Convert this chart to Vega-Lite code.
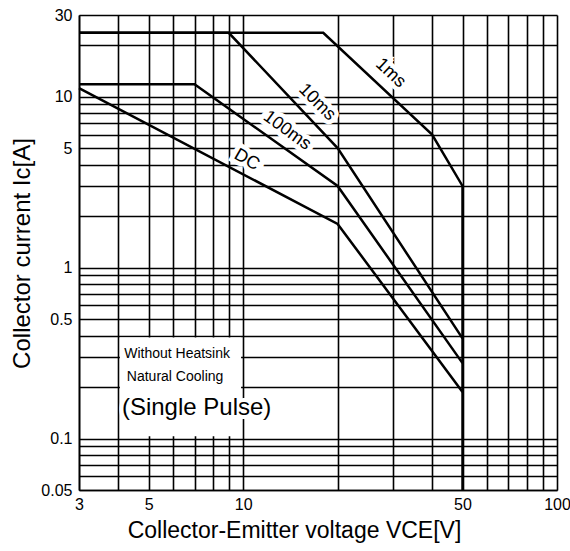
{
  "$schema": "https://vega.github.io/schema/vega-lite/v6.json",
  "width": 478,
  "height": 475,
  "autosize": {"type": "none"},
  "padding": {"left": 79, "top": 15, "right": 13, "bottom": 61},
  "background": "white",
  "config": {"view": {"stroke": null}, "font": "Liberation Sans"},
  "datasets": {
    "curves": [
      {"series": "1ms", "i": 0, "x": 3, "y": 23.6},
      {"series": "1ms", "i": 1, "x": 18, "y": 23.6},
      {"series": "1ms", "i": 2, "x": 40, "y": 6},
      {"series": "1ms", "i": 3, "x": 50, "y": 3},
      {"series": "1ms", "i": 4, "x": 50, "y": 0.05},
      {"series": "10ms", "i": 0, "x": 3, "y": 23.6},
      {"series": "10ms", "i": 1, "x": 9, "y": 23.6},
      {"series": "10ms", "i": 2, "x": 20, "y": 5},
      {"series": "10ms", "i": 3, "x": 50, "y": 0.385},
      {"series": "100ms", "i": 0, "x": 3, "y": 11.8},
      {"series": "100ms", "i": 1, "x": 7, "y": 11.8},
      {"series": "100ms", "i": 2, "x": 20, "y": 3},
      {"series": "100ms", "i": 3, "x": 50, "y": 0.276},
      {"series": "DC", "i": 0, "x": 3, "y": 11.2},
      {"series": "DC", "i": 1, "x": 20, "y": 1.8},
      {"series": "DC", "i": 2, "x": 50, "y": 0.187}
    ],
    "curveLabels": [
      {"label": "1ms", "x": 29.5, "y": 13.7, "angle": 43},
      {"label": "10ms", "x": 17.2, "y": 9.26, "angle": 45},
      {"label": "100ms", "x": 13.8, "y": 6.32, "angle": 36},
      {"label": "DC", "x": 10.27, "y": 4.26, "angle": 30}
    ],
    "box": [
      {"x": 4.05, "x2": 9.85, "y": 0.103, "y2": 0.39}
    ],
    "notes": [
      {"label": "Without Heatsink", "x": 6.16, "y": 0.313},
      {"label": "Natural Cooling", "x": 6.07, "y": 0.229}
    ],
    "pulse": [
      {"label": "(Single Pulse)", "x": 4.11, "y": 0.151}
    ],
    "heading": [
      {"label": "Safe Operating Area", "x": 16.9, "y": 39.8}
    ]
  },
  "encoding": {
    "x": {
      "field": "x",
      "type": "quantitative",
      "scale": {"type": "log", "domain": [3, 100], "nice": false},
      "axis": {
        "values": [3, 4, 5, 6, 7, 8, 9, 10, 20, 30, 40, 50, 60, 70, 80, 90, 100],
        "format": "~g",
        "labelExpr": "indexof([3,5,10,50,100], datum.value) >= 0 ? datum.label : ''",
        "labelOverlap": false,
        "labelFlush": false,
        "labelBound": false,
        "grid": true,
        "gridColor": "black",
        "gridOpacity": 1,
        "gridWidth": 1.6,
        "domain": true,
        "domainColor": "black",
        "domainWidth": 1.6,
        "ticks": false,
        "labelFontSize": 16,
        "labelColor": "black",
        "labelPadding": 6,
        "title": "Collector-Emitter voltage VCE[V]",
        "titleFontSize": 23,
        "titleFontWeight": "normal",
        "titleColor": "black",
        "titleX": 215,
        "titleY": 40,
        "titleAlign": "center",
        "titleBaseline": "middle"
      }
    },
    "y": {
      "field": "y",
      "type": "quantitative",
      "scale": {"type": "log", "domain": [0.05, 30], "nice": false},
      "axis": {
        "values": [0.05, 0.06, 0.07, 0.08, 0.09, 0.1, 0.2, 0.3, 0.4, 0.5, 0.6, 0.7, 0.8, 0.9, 1, 2, 3, 4, 5, 6, 7, 8, 9, 10, 20, 30],
        "format": "~g",
        "labelExpr": "indexof([0.05,0.1,0.5,1,5,10,30], datum.value) >= 0 ? datum.label : ''",
        "labelOverlap": false,
        "labelFlush": false,
        "labelBound": false,
        "grid": true,
        "gridColor": "black",
        "gridOpacity": 1,
        "gridWidth": 1.6,
        "domain": true,
        "domainColor": "black",
        "domainWidth": 1.6,
        "ticks": false,
        "labelFontSize": 16,
        "labelColor": "black",
        "labelPadding": 7,
        "title": "Collector current    Ic[A]",
        "titleFontSize": 24,
        "titleFontWeight": "normal",
        "titleColor": "black",
        "titleAngle": 270,
        "titleX": -57,
        "titleY": 238,
        "titleAlign": "center",
        "titleBaseline": "middle"
      }
    }
  },
  "layer": [
    {
      "data": {"name": "box"},
      "mark": {"type": "rect", "fill": "white", "stroke": null},
      "encoding": {"x2": {"field": "x2"}, "y2": {"field": "y2"}}
    },
    {
      "data": {"name": "curves"},
      "mark": {"type": "line", "color": "black", "strokeWidth": 2.5, "strokeJoin": "miter"},
      "encoding": {
        "detail": {"field": "series"},
        "order": {"field": "i", "type": "quantitative"}
      }
    },
    {
      "data": {"name": "curveLabels"},
      "mark": {"type": "text", "fontSize": 18, "color": "white", "stroke": "white", "strokeWidth": 9, "align": "center", "baseline": "middle"},
      "encoding": {"text": {"field": "label"}, "angle": {"field": "angle", "type": "quantitative", "scale": null}}
    },
    {
      "data": {"name": "curveLabels"},
      "mark": {"type": "text", "fontSize": 18, "color": "black", "align": "center", "baseline": "middle"},
      "encoding": {"text": {"field": "label"}, "angle": {"field": "angle", "type": "quantitative", "scale": null}}
    },
    {
      "data": {"name": "notes"},
      "mark": {"type": "text", "fontSize": 14, "color": "black", "align": "center", "baseline": "middle"},
      "encoding": {"text": {"field": "label"}}
    },
    {
      "data": {"name": "pulse"},
      "mark": {"type": "text", "fontSize": 24, "color": "white", "stroke": "white", "strokeWidth": 8, "align": "left", "baseline": "middle"},
      "encoding": {"text": {"field": "label"}}
    },
    {
      "data": {"name": "pulse"},
      "mark": {"type": "text", "fontSize": 24, "color": "black", "align": "left", "baseline": "middle"},
      "encoding": {"text": {"field": "label"}}
    },
    {
      "data": {"name": "heading"},
      "mark": {"type": "text", "fontSize": 28, "fontWeight": "bold", "color": "black", "align": "center", "baseline": "alphabetic"},
      "encoding": {"text": {"field": "label"}}
    }
  ]
}
